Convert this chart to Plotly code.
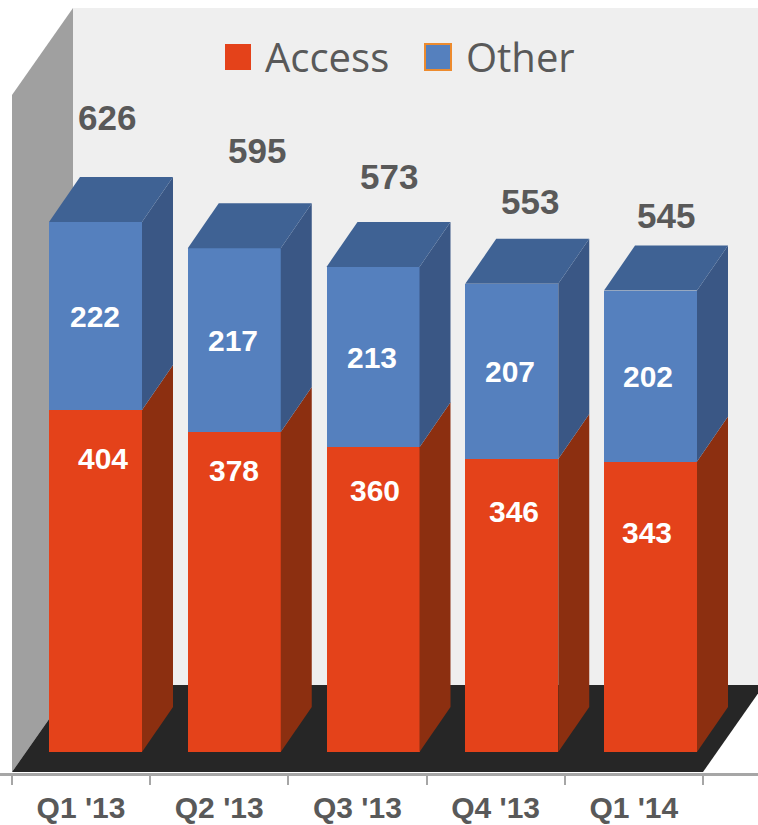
import plotly.graph_objects as go

categories = ["Q1 '13", "Q2 '13", "Q3 '13", "Q4 '13", "Q1 '14"]
access = [404, 378, 360, 346, 343]
other = [222, 217, 213, 207, 202]
totals = [626, 595, 573, 553, 545]

# hand-placed label nudges in the original slide (pixels)
access_label_drop = [49, 39, 43, 52, 71]
access_label_dx = [7, 0, 2, 2, -4]
other_label_dx = [-1, -1, -1, -2, -3]
total_label_rise = [105, 98, 90, 82, 75]
total_label_dx = [-4, 8, 1, 3, 0]

W, H = 758, 825
X0, XS = 81.0, 138.2      # pixel of category 0, pixels per category
Y0, YS = 752.0, 0.8466    # pixel of value 0, pixels per unit
AXIS_PX = 773

xd = lambda p: (p - X0) / XS
yd = lambda p: (Y0 - p) / YS

BAR_OFF = 14.5 / XS
BAR_STEP = 138.75 / XS
BAR_W = 93 / XS
DX = 31 / XS
DY = 45 / YS

RED, RED_SIDE = "#E4421A", "#8C2F10"
BLUE, BLUE_SIDE, BLUE_TOP = "#5580BE", "#3A5785", "#3F6294"
GREY = "#595959"

fig = go.Figure()
xs = [i * BAR_STEP + BAR_OFF for i in range(len(categories))]

fig.add_bar(x=xs, y=access, name="Access", width=BAR_W, marker=dict(color=RED, line_width=0),
            hoverinfo="skip", showlegend=False)
fig.add_bar(x=xs, y=other, name="Other", width=BAR_W, marker=dict(color=BLUE, line_width=0),
            hoverinfo="skip", showlegend=False)


def poly(px, py, color):
    fig.add_scatter(x=px + [px[0]], y=py + [py[0]], mode="lines", fill="toself", fillcolor=color,
                    line=dict(width=0, color=color), hoverinfo="skip", showlegend=False)


for x, a, o in zip(xs, access, other):
    r = x + BAR_W / 2
    l = x - BAR_W / 2
    t = a + o
    poly([r, r + DX, r + DX, r], [0, DY, a + DY, a], RED_SIDE)
    poly([r, r + DX, r + DX, r], [a, a + DY, t + DY, t], BLUE_SIDE)
    poly([l, r, r + DX, l + DX], [t, t, t + DY, t + DY], BLUE_TOP)

shapes = []


def wall(pts, color):
    path = "M " + " L ".join(f"{xd(a):.4f},{yd(b):.3f}" for a, b in pts) + " Z"
    return dict(type="path", path=path, xref="x", yref="y", layer="below",
                fillcolor=color, line=dict(width=0))


shapes.append(wall([(73, 8), (758, 8), (758, 685), (73, 685)], "#EFEFEF"))
shapes.append(wall([(12, 95), (73, 8), (73, 685), (12, 772)], "#A0A0A0"))
shapes.append(wall([(12, 772), (703, 772), (764, 685), (73, 685)], "#262626"))
# legend swatches
shapes.append(dict(type="rect", xref="paper", yref="paper", x0=225 / W, x1=251 / W,
                   y0=1 - 70 / AXIS_PX, y1=1 - 44 / AXIS_PX, fillcolor=RED, line_width=0))
shapes.append(dict(type="rect", xref="paper", yref="paper", x0=425 / W, x1=451 / W,
                   y0=1 - 70 / AXIS_PX, y1=1 - 44 / AXIS_PX, fillcolor=BLUE,
                   line=dict(color="#ED8B2E", width=2)))

inner_font = dict(family="Liberation Sans", size=30, color="white", weight="bold")
ann = []
for x, a, drop, dx in zip(xs, access, access_label_drop, access_label_dx):
    ann.append(dict(x=x, y=a, text=str(a), showarrow=False, yshift=-drop, xshift=dx, yanchor="middle",
                    font=inner_font))
for x, a, o, dx in zip(xs, access, other, other_label_dx):
    ann.append(dict(x=x, y=a + o / 2, text=str(o), showarrow=False, xshift=dx, yanchor="middle",
                    font=inner_font))
for x, t, rise, dx in zip(xs, totals, total_label_rise, total_label_dx):
    ann.append(dict(x=x, y=t, text=str(t), showarrow=False, yshift=rise, xshift=15 + dx,
                    yanchor="middle", font=dict(family="Liberation Sans", size=35, color=GREY, weight="bold")))
for label, px in (("Access", 263), ("Other", 464)):
    ann.append(dict(xref="paper", yref="paper", x=px / W, y=1 - 57 / AXIS_PX, text=label, showarrow=False,
                    xanchor="left", yanchor="middle", font=dict(family="Open Sans", size=40, color=GREY)))

fig.update_layout(
    width=W, height=H, margin=dict(l=0, r=0, t=0, b=H - AXIS_PX, autoexpand=False), autosize=False,
    paper_bgcolor="white", plot_bgcolor="rgba(0,0,0,0)", barmode="stack", showlegend=False,
    shapes=shapes, annotations=ann,
    xaxis=dict(range=[xd(0), xd(W)], tickvals=list(range(len(categories))), ticktext=categories,
               automargin=False,
               ticks="", showgrid=False, zeroline=False, showline=True, linecolor="#A6A6A6", linewidth=3,
               tickfont=dict(family="Liberation Sans", size=30, color=GREY, weight="bold"),
               ticklabelstandoff=6,
               minor=dict(tickvals=[i - 0.5 for i in range(len(categories) + 1)], ticks="outside",
                          ticklen=9, tickwidth=2, tickcolor="#A6A6A6", showgrid=False)),
    yaxis=dict(range=[yd(AXIS_PX), yd(0)], visible=False, showgrid=False, zeroline=False, automargin=False),
)

fig.write_html("out.html", config=dict(displayModeBar=False),
               post_script="document.body.style.margin='0';document.body.style.overflow='hidden';")
